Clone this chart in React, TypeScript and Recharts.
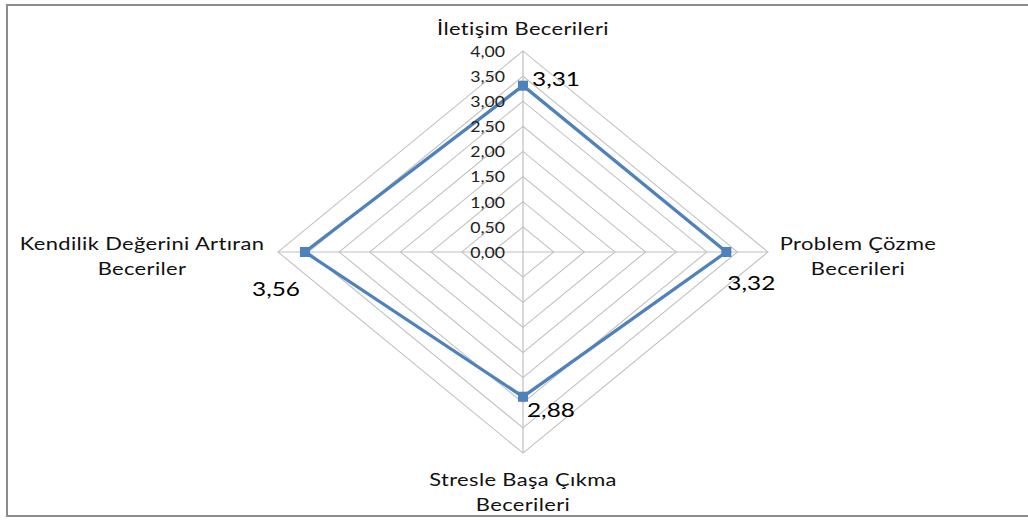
import React from 'react';
import {
  Radar,
  RadarChart,
  PolarGrid,
  PolarAngleAxis,
  PolarRadiusAxis,
  LabelList,
} from 'recharts';

// categories, clockwise from the top
const categories = [
  'İletişim Becerileri',
  'Problem Çözme\nBecerileri',
  'Stresle Başa Çıkma\nBecerileri',
  'Kendilik Değerini Artıran\nBeceriler',
];
const scores = [3.31, 3.32, 2.88, 3.56];
const radiusTicks = [0, 0.5, 1, 1.5, 2, 2.5, 3, 3.5, 4];

const data = categories.map((c, i) => ({ subject: c, value: scores[i] }));

// the original picture is stretched sideways
const SX = 1.219;
const W = 1028;
const H = 520;
const CXF = 523; // final px
const CY = 252;
const R = 201;
const CX = CXF / SX;

const FONT = 'Lato, "Open Sans", sans-serif';
const BLUE = '#4F81BD';

const fmt = (v: number) => v.toFixed(2).replace('.', ',');

// category label placement, final px relative to centre
const catPos = [
  { dx: 0, dy: -224 },
  { dx: 335, dy: -9 },
  { dx: 0, dy: 227 },
  { dx: -381, dy: -9 },
];

// value label placement, final px relative to the point
const valPos = [
  { dx: 9, dy: -7, anchor: 'start' },
  { dx: 1, dy: 30, anchor: 'start' },
  { dx: 4, dy: 13, anchor: 'start' },
  { dx: -5, dy: 36, anchor: 'end' },
];

const AngleTick = (props: any) => {
  const i = props.index ?? 0;
  const lines = String(props.payload?.value ?? '').split('\n');
  const p = catPos[i];
  const x = CX + p.dx / SX;
  return (
    <text
      x={x}
      y={CY + p.dy}
      textAnchor="middle"
      fontFamily={FONT}
      fontSize={18}
      letterSpacing={0.3}
      fill="#111"
    >
      {lines.map((l, k) => (
        <tspan key={k} x={x} y={CY + p.dy + k * 25} dominantBaseline="central">
          {l}
        </tspan>
      ))}
    </text>
  );
};

const RadiusTick = (props: any) => (
  <text
    x={props.x - 18 / SX}
    y={props.y}
    textAnchor="end"
    dominantBaseline="central"
    fontFamily={FONT}
    fontSize={14.5}
    fill="#222"
  >
    {fmt(props.payload.value)}
  </text>
);

const ValueLabel = (props: any) => {
  const i = props.index ?? 0;
  const p = valPos[i];
  return (
    <text
      x={props.x + p.dx / SX}
      y={props.y + p.dy}
      textAnchor={p.anchor}
      dominantBaseline="central"
      fontFamily={FONT}
      fontSize={20}
      fill="#000"
    >
      {fmt(Number(props.value))}
    </text>
  );
};

const SquareDot = (props: any) => (
  <rect x={props.cx - 5 / SX} y={props.cy - 5} width={10 / SX} height={10} fill={BLUE} />
);

export default function App() {
  return (
    <div
      style={{
        position: 'absolute',
        left: 0,
        top: 0,
        width: W,
        height: H,
        overflow: 'hidden',
        background: '#fff',
      }}
    >
      <div
        style={{
          position: 'absolute',
          left: 6,
          top: 4,
          width: W + 10,
          height: H - 7,
          border: '2px solid #8c8c8c',
          boxSizing: 'border-box',
        }}
      />
      <div
        style={{
          position: 'absolute',
          left: 0,
          top: 0,
          transform: `scaleX(${SX})`,
          transformOrigin: '0 0',
        }}
      >
        <RadarChart
          width={W / SX}
          height={H}
          data={data}
          cx={CX}
          cy={CY}
          outerRadius={R}
          margin={{ top: 0, right: 0, bottom: 0, left: 0 }}
        >
          <PolarGrid gridType="polygon" stroke="#c0c0c0" strokeWidth={1} />
          <PolarAngleAxis
            dataKey="subject"
            tick={<AngleTick />}
            tickLine={false}
            axisLine={false}
          />
          <PolarRadiusAxis
            angle={90}
            domain={[0, 4]}
            ticks={radiusTicks}
            tick={<RadiusTick />}
            axisLine={false}
            tickLine={false}
          />
          <Radar
            dataKey="value"
            stroke={BLUE}
            strokeWidth={3}
            fill="none"
            fillOpacity={0}
            dot={<SquareDot />}
            isAnimationActive={false}
          >
            <LabelList dataKey="value" content={<ValueLabel />} />
          </Radar>
        </RadarChart>
      </div>
    </div>
  );
}
